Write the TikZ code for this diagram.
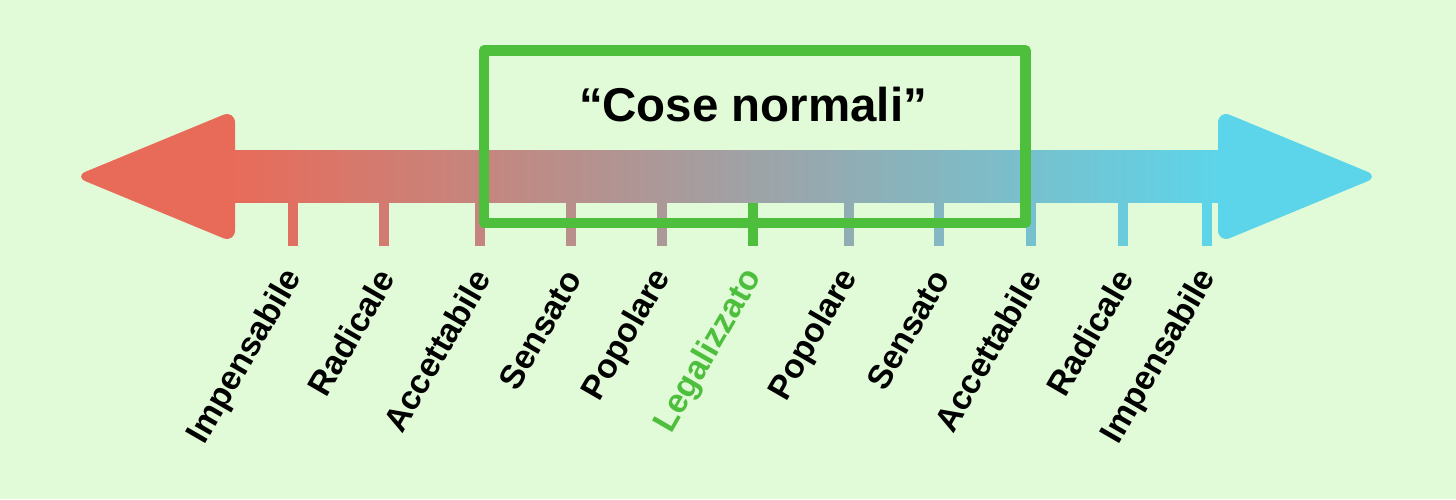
\documentclass[tikz,border=0pt]{standalone}
\usepackage{fontspec}
\setmainfont{Liberation Sans}
\definecolor{paper}{HTML}{E1FBD8}
\definecolor{redq}{HTML}{E86B5A}
\definecolor{cyanq}{HTML}{5CD5EA}
\definecolor{greenq}{HTML}{4DBF3D}

\begin{document}
\begin{tikzpicture}[font=\bfseries,line join=round,
  tick/.style={line width=1mm},
  lab/.style={rotate=60,anchor=east,inner sep=0pt,font=\fontsize{9.6}{11}\selectfont\bfseries}]
  \fill[paper] (0,0) rectangle (14.56,4.99);
  \useasboundingbox (0,0) rectangle (14.56,4.99);

  % shaft and heads
  \shade[left color=redq,right color=cyanq] (2.30,2.965) rectangle (12.25,3.49);
  \fill[redq,rounded corners=1.3mm] (2.35,3.89) -- (0.74,3.225) -- (2.35,2.56) -- cycle;
  \fill[cyanq,rounded corners=1.3mm] (12.18,3.89) -- (13.79,3.225) -- (12.18,2.56) -- cycle;

  % ticks and labels
  \foreach \x/\txt [count=\i,evaluate=\x as \p using {100*(\x-2.35)/9.83}] in
    {2.93/Impensabile,3.84/Radicale,4.80/Accettabile,5.71/Sensato,6.62/Popolare,
     8.49/Popolare,9.39/Sensato,10.31/Accettabile,11.23/Radicale,12.07/Impensabile}{
    \draw[tick,cyanq!\p!redq] (\x,2.965) -- (\x,2.53);
    \node[lab] (lab\i) at (\x+.02,2.27) {\txt};
  }
  \draw[tick,greenq] (7.53,2.965) -- (7.53,2.53);
  \node[lab,greenq] (legal) at (7.55,2.27) {Legalizzato};

  % window
  \draw[greenq,line width=1.05mm] (4.84,2.76) rectangle (10.255,4.485);
  \node[font=\fontsize{13.5}{16}\selectfont\bfseries] (title) at (7.53,3.94) {“Cose normali”};
\end{tikzpicture}
\end{document}
